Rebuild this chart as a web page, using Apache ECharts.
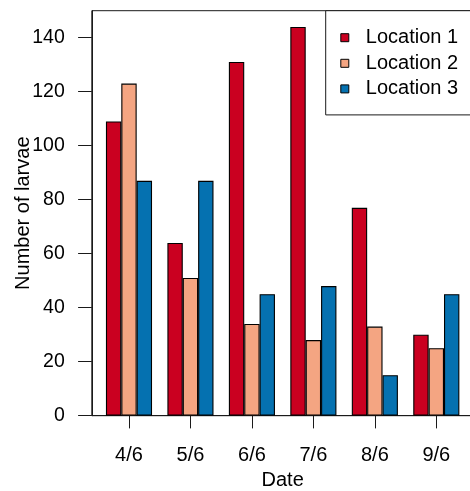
<!DOCTYPE html>
<html>
<head>
<meta charset="utf-8">
<title>Number of larvae by date</title>
<script src="https://cdn.jsdelivr.net/npm/echarts@6/dist/echarts.min.js"></script>
<style>
  html, body { margin: 0; padding: 0; overflow: hidden; background: #fff; }
  #chart { width: 474px; height: 491px; }
</style>
</head>
<body>
<div id="chart"></div>
<script>
// Sampling dates and larvae counts per location
const dates = ['4/6', '5/6', '6/6', '7/6', '8/6', '9/6'];
const location1 = [109, 64, 131, 144, 77, 30];
const location2 = [123, 51, 34, 28, 33, 25];
const location3 = [87, 87, 45, 48, 15, 45];
const seriesNames = ['Location 1', 'Location 2', 'Location 3'];
const yTicks = [0, 20, 40, 60, 80, 100, 120, 140];

const colors = ['#CA0020', '#F4A582', '#0571B0'];
const font = "'Liberation Sans', Arial, Helvetica, sans-serif";

// Groups of three bars, one bar wide each, with a one-bar space before each group
const groupCenter = i => 2.5 + 4 * i;
const centers = dates.map((d, i) => groupCenter(i));

const chart = echarts.init(document.getElementById('chart'), null, { renderer: 'canvas' });

const makeSeries = (name, values, color) => ({
  name: name,
  type: 'bar',
  data: values.map((v, i) => [groupCenter(i), v]),
  barGap: '0%',
  barCategoryGap: '25%',
  itemStyle: { color: color, borderColor: '#000', borderWidth: 1.1 },
  emphasis: { disabled: true },
  animation: false
});

chart.setOption({
  backgroundColor: '#fff',
  animation: false,
  textStyle: { fontFamily: font },
  grid: {
    left: 91.8,
    right: 0.5,
    top: 10.7,
    bottom: 75.3,
    containLabel: false,
    outerBoundsMode: 'none',
    show: true,
    borderColor: '#1a1a1a',
    borderWidth: 1,
    backgroundColor: 'transparent'
  },
  legend: {
    orient: 'vertical',
    left: 325.7,
    top: 10.7,
    data: seriesNames,
    icon: 'rect',
    itemWidth: 8,
    itemHeight: 8,
    itemGap: 5.6,
    padding: [17, 20, 16, 14.6],
    backgroundColor: '#fff',
    borderColor: '#1a1a1a',
    borderWidth: 1,
    borderRadius: 0,
    selectedMode: false,
    textStyle: {
      fontFamily: font,
      fontSize: 20,
      color: '#000',
      lineHeight: 20,
      padding: [0, 0, 0, 12]
    },
    itemStyle: { borderColor: '#000', borderWidth: 1 }
  },
  xAxis: {
    type: 'value',
    min: 0.08,
    max: 24.92,
    splitLine: { show: false },
    axisLine: { show: true, lineStyle: { color: '#1a1a1a', width: 1 } },
    axisTick: {
      show: true,
      customValues: centers,
      length: 12.7,
      lineStyle: { color: '#1a1a1a', width: 1 }
    },
    axisLabel: {
      customValues: centers,
      formatter: v => dates[centers.indexOf(v)] ?? '',
      fontSize: 20,
      color: '#000',
      fontFamily: font,
      margin: 30
    },
    name: 'Date',
    nameLocation: 'middle',
    nameGap: 55,
    nameMoveOverlap: false,
    nameTextStyle: { fontSize: 20, color: '#000', fontFamily: font }
  },
  yAxis: {
    type: 'value',
    min: 0,
    max: 150,
    interval: 20,
    splitLine: { show: false },
    axisLine: { show: true, lineStyle: { color: '#1a1a1a', width: 1 } },
    axisTick: {
      show: true,
      customValues: yTicks,
      length: 13.7,
      lineStyle: { color: '#1a1a1a', width: 1 }
    },
    axisLabel: {
      customValues: yTicks,
      fontSize: 19.5,
      color: '#000',
      fontFamily: font,
      margin: 27
    },
    name: 'Number of larvae',
    nameLocation: 'middle',
    nameGap: 58,
    nameMoveOverlap: false,
    nameTextStyle: { fontSize: 20, color: '#000', fontFamily: font }
  },
  series: [
    makeSeries(seriesNames[0], location1, colors[0]),
    makeSeries(seriesNames[1], location2, colors[1]),
    makeSeries(seriesNames[2], location3, colors[2])
  ]
});
</script>
</body>
</html>
